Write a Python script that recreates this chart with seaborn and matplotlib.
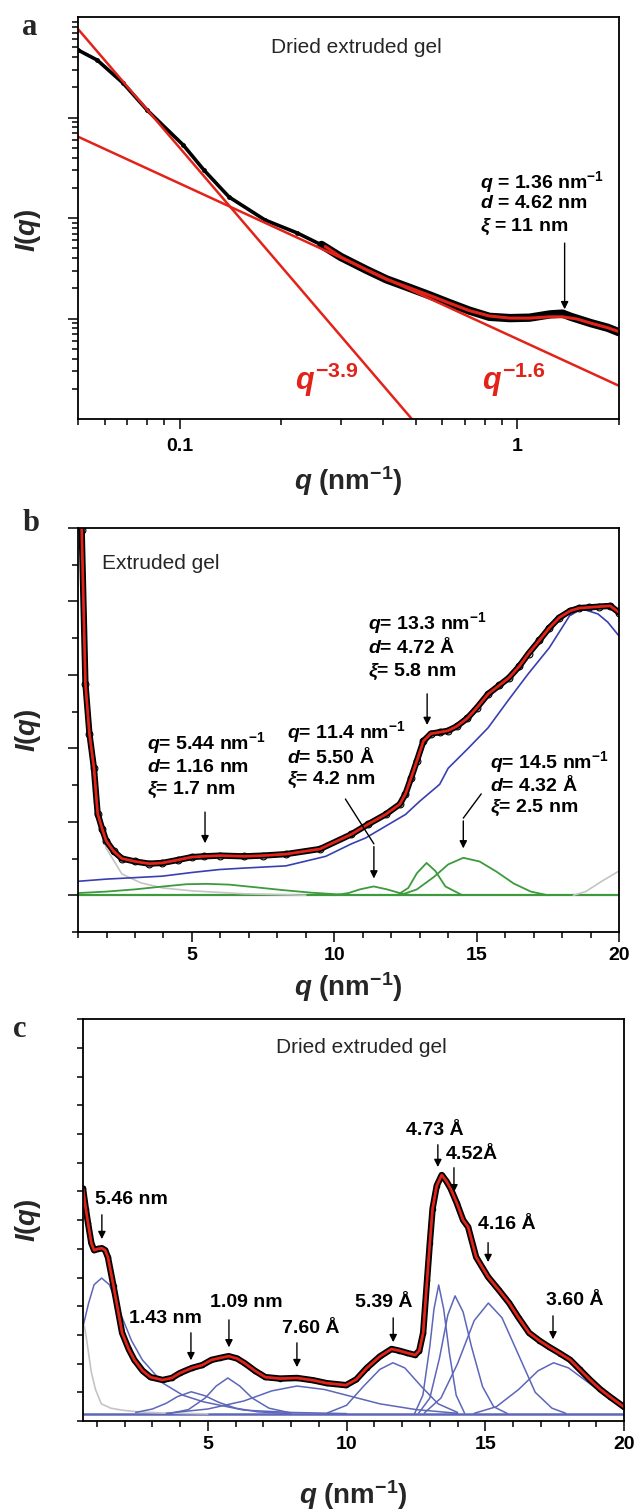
import matplotlib
matplotlib.use("Agg")
import numpy as np
import matplotlib.pyplot as plt
import seaborn as sns
from matplotlib.ticker import MultipleLocator, LogLocator, NullFormatter

# ---------------- panel a : dried extruded gel, log-log ----------------
a_q = [0.050, 0.057, 0.068, 0.080, 0.1025, 0.118, 0.140, 0.179, 0.223, 0.263,
       0.30, 0.358, 0.41, 0.472, 0.55, 0.627, 0.72, 0.826, 0.95, 1.087,
       1.25, 1.36, 1.44, 1.65, 1.85, 2.0]
a_I = [4700, 3730, 2200, 1190, 532, 300, 162, 95.5, 71, 54,
       41, 30.4, 24.5, 20.6, 17, 14.3, 12, 10.4, 10.1, 10.2,
       11.0, 11.2, 10.4, 9.0, 8.1, 7.3]
a_fit_q = [0.27, 0.30, 0.358, 0.41, 0.472, 0.55, 0.627, 0.72, 0.826, 0.95,
           1.087, 1.25, 1.36, 1.5, 1.65, 1.85, 2.0]
a_fit_I = [52, 41, 30.4, 24.5, 20.6, 17, 14.3, 12, 10.6, 10.1,
           10.1, 10.4, 10.4, 9.9, 9.0, 8.1, 7.4]
a_steep_q = [0.05, 0.487]
a_steep_I = [7600, 1.0]
a_shallow_q = [0.05, 2.0]
a_shallow_I = [645, 2.14]

# ---------------- panel b : extruded gel ----------------
b_q = [1.05, 1.13, 1.26, 1.4, 1.56, 1.69, 1.85, 1.99, 2.25, 2.54, 3.0, 3.5, 3.96,
       4.5, 5.0, 5.41, 6.0, 6.83, 7.5, 8.3, 9.5, 10.6, 11.2, 11.8, 12.3, 12.5,
       12.7, 12.9, 13.13, 13.39, 13.7, 13.99, 14.3, 14.67, 15.0, 15.4, 15.8,
       16.13, 16.5, 16.82, 17.2, 17.55, 17.9, 18.27, 18.6, 18.96, 19.3, 19.69, 20.0]
b_I = [5.6, 4.97, 2.88, 2.2, 1.73, 1.11, 0.9, 0.74, 0.6, 0.5, 0.46, 0.43, 0.44,
       0.48, 0.52, 0.53, 0.54, 0.53, 0.54, 0.56, 0.63, 0.83, 0.97, 1.10, 1.24, 1.38,
       1.60, 1.83, 2.10, 2.20, 2.22, 2.24, 2.30, 2.41, 2.55, 2.74, 2.86,
       2.96, 3.12, 3.29, 3.47, 3.64, 3.78, 3.87, 3.91, 3.92, 3.93, 3.94, 3.85]
b_bg_q = [1.0, 2.0, 3.0, 3.96, 5.0, 5.96, 6.83, 8.3, 9.7, 10.6, 11.1, 11.8, 12.5,
          13.0, 13.7, 14.0, 14.7, 15.4, 16.1, 16.8, 17.55, 18.27, 18.7, 19.26,
          19.6, 20.0]
b_bg_I = [0.19, 0.22, 0.24, 0.26, 0.31, 0.35, 0.37, 0.40, 0.53, 0.70, 0.78, 0.94,
          1.10, 1.28, 1.51, 1.73, 2.0, 2.28, 2.65, 3.01, 3.37, 3.81, 3.90, 3.83,
          3.72, 3.53]
b_gray_left_q = [1.02, 1.13, 1.3, 1.56, 1.99, 2.54, 3.2, 3.96, 5.0, 6.83, 9.0]
b_gray_left_I = [5.5, 4.6, 2.6, 1.28, 0.64, 0.29, 0.17, 0.10, 0.06, 0.02, 0.0]
b_gray_right_q = [18.4, 18.83, 19.39, 20.0]
b_gray_right_I = [0.0, 0.05, 0.19, 0.33]
b_peaks = [
    ([1.0, 2.0, 3.0, 4.0, 4.8, 5.53, 6.3, 7.2, 8.2, 9.2, 10.2],
     [0.03, 0.05, 0.08, 0.12, 0.15, 0.155, 0.145, 0.11, 0.07, 0.035, 0.01]),
    ([10.0, 10.5, 10.9, 11.38, 11.85, 12.3, 12.7],
     [0.0, 0.03, 0.08, 0.12, 0.08, 0.03, 0.0]),
    ([12.2, 12.6, 12.9, 13.24, 13.55, 13.9, 14.5],
     [0.0, 0.1, 0.3, 0.44, 0.33, 0.12, 0.0]),
    ([12.3, 12.9, 13.5, 14.0, 14.53, 15.1, 15.7, 16.3, 16.9, 17.5],
     [0.0, 0.08, 0.25, 0.42, 0.51, 0.46, 0.32, 0.16, 0.05, 0.0]),
]
b_base = 0.0

# ---------------- panel c : dried extruded gel, linear ----------------
c_q = [0.5, 0.6, 0.68, 0.8, 0.9, 1.05, 1.18, 1.3, 1.4, 1.6, 1.91, 2.15, 2.35, 2.65,
       2.93, 3.37, 3.7, 3.99, 4.43, 4.8, 5.13, 5.45, 5.75, 6.05, 6.32, 6.7, 7.07,
       7.6, 8.22, 8.8, 9.28, 9.98, 10.35, 10.73, 11.2, 11.62, 11.9, 12.19, 12.47,
       12.62, 12.76, 12.9, 13.0, 13.1, 13.25, 13.43, 13.6, 13.75, 13.97, 14.2,
       14.38, 14.67, 15.1, 15.5, 15.86, 16.2, 16.58, 16.95, 17.3, 17.7, 18.06,
       18.4, 18.78, 19.15, 19.5, 20.0]
c_I = [8.1, 7.4, 6.9, 6.2, 5.95, 6.0, 6.02, 5.95, 5.7, 4.7, 3.07, 2.5, 2.13, 1.75,
       1.53, 1.43, 1.5, 1.67, 1.85, 1.95, 2.13, 2.2, 2.26, 2.18, 2.02, 1.75, 1.53,
       1.48, 1.50, 1.42, 1.32, 1.25, 1.45, 1.85, 2.25, 2.51, 2.45, 2.37, 2.30,
       2.45, 3.07, 4.9, 6.2, 7.4, 8.2, 8.57, 8.35, 8.1, 7.6, 7.0,
       6.76, 5.71, 5.02, 4.55, 4.11, 3.6, 3.07, 2.8, 2.58, 2.35, 2.13,
       1.8, 1.43, 1.1, 0.84, 0.49]
c_gray_q = [0.55, 0.62, 0.68, 0.8, 0.95, 1.16, 1.5, 1.9, 2.5, 3.4, 5.0]
c_gray_I = [3.3, 2.9, 2.5, 1.7, 1.1, 0.6, 0.45, 0.38, 0.32, 0.28, 0.25]
c_peaks = [
    ([0.5, 0.7, 0.9, 1.17, 1.45, 1.9, 2.25, 2.64, 3.38, 4.1, 4.84, 6.3, 8.0, 10.0],
     [3.29, 4.1, 4.75, 4.98, 4.75, 3.63, 2.8, 2.13, 1.32, 0.9, 0.67, 0.38, 0.3, 0.26]),
    ([2.4, 3.0, 3.5, 3.9, 4.4, 4.9, 5.4, 6.0, 6.8, 8.0],
     [0.3, 0.42, 0.62, 0.85, 1.02, 0.88, 0.65, 0.45, 0.32, 0.26]),
    ([3.6, 4.3, 4.9, 5.3, 5.72, 6.15, 6.6, 7.2, 8.0],
     [0.26, 0.4, 0.8, 1.22, 1.5, 1.22, 0.8, 0.45, 0.28]),
    ([3.5, 5.0, 6.3, 7.3, 8.21, 9.2, 10.2, 11.2, 12.5, 14.0],
     [0.27, 0.42, 0.7, 1.05, 1.22, 1.1, 0.85, 0.6, 0.4, 0.27]),
    ([9.3, 10.0, 10.6, 11.2, 11.67, 12.1, 12.7, 13.3, 14.0],
     [0.28, 0.55, 1.2, 1.8, 2.03, 1.85, 1.2, 0.6, 0.3]),
    ([12.45, 12.75, 13.0, 13.15, 13.32, 13.5, 13.7, 13.95, 14.25],
     [0.26, 0.9, 2.6, 3.9, 4.74, 3.9, 2.4, 0.9, 0.28]),
    ([12.6, 13.0, 13.35, 13.65, 13.91, 14.2, 14.5, 14.9, 15.3, 15.8],
     [0.28, 0.8, 2.2, 3.7, 4.36, 3.8, 2.6, 1.2, 0.5, 0.26]),
    ([12.8, 13.4, 14.0, 14.6, 15.11, 15.6, 16.2, 16.8, 17.4, 17.9],
     [0.28, 0.8, 2.0, 3.5, 4.11, 3.6, 2.3, 1.0, 0.45, 0.27]),
    ([14.6, 15.4, 16.2, 16.9, 17.46, 18.0, 18.7, 19.4, 20.0],
     [0.27, 0.5, 1.1, 1.75, 2.03, 1.85, 1.35, 0.85, 0.55]),
]
c_base = 0.24

RED = "#e2231a"
GREEN = "#3d9a3d"
BLUE_B = "#3a3fb0"
BLUE_C = "#5d66b8"
GRAY = "#c4c4c4"

sns.set_theme(style="ticks")
plt.rcParams["font.family"] = ["Liberation Sans", "DejaVu Sans"]
plt.rcParams["mathtext.fontset"] = "custom"
plt.rcParams["mathtext.rm"] = "Liberation Sans:bold"
plt.rcParams["mathtext.bf"] = "Liberation Sans:bold"
plt.rcParams["mathtext.it"] = "Liberation Sans:italic:bold"

fig = plt.figure(figsize=(6.38, 15.10), dpi=100)
ax_a = fig.add_axes([0.1223, 0.7225, 0.8480, 0.2662])
ax_b = fig.add_axes([0.1223, 0.3828, 0.8480, 0.2675])
ax_c = fig.add_axes([0.1301, 0.0589, 0.8480, 0.2662])

ANN = dict(fontsize=14, fontweight="bold", color="black")
ARROW = dict(arrowstyle="-|>", color="black", lw=1.0, mutation_scale=11)


def style(ax):
    for s in ax.spines.values():
        s.set_linewidth(1.3)
        s.set_color("black")
    ax.tick_params(which="both", direction="out", top=False, right=False,
                   colors="black", width=1.1)
    ax.tick_params(which="major", length=7, labelsize=14, pad=4)
    ax.tick_params(which="minor", length=4)


def arrow(ax, start, tip):
    ax.annotate("", xy=tip, xytext=start, arrowprops=ARROW)


def labels(ax, xlab_y, ylab_x, ylab_y):
    ax.set_xlabel(r"$q$ (nm$^{-1}$)", fontsize=20, fontweight="bold")
    ax.xaxis.set_label_coords(0.5, xlab_y)
    ax.xaxis.label.set_va("center")
    ax.set_ylabel(r"$I$($q$)", fontsize=20, fontweight="bold")
    ax.yaxis.set_label_coords(ylab_x, ylab_y)
    ax.yaxis.label.set_va("center")


# ---------------- draw panel a ----------------
ax = ax_a
ax.set_xscale("log")
ax.set_yscale("log")
band_q = [q for q in a_q if q >= 0.26]
band_I = [v for q, v in zip(a_q, a_I) if q >= 0.26]
sns.lineplot(x=a_q, y=a_I, ax=ax, color="black", lw=2.6, sort=False, estimator=None)
sns.lineplot(x=band_q, y=band_I, ax=ax, color="black", lw=6.0, sort=False, estimator=None)
sns.scatterplot(x=a_q, y=a_I, ax=ax, color="black", s=12, linewidth=0)
sns.lineplot(x=a_steep_q, y=a_steep_I, ax=ax, color=RED, lw=1.8, sort=False, estimator=None)
sns.lineplot(x=a_shallow_q, y=a_shallow_I, ax=ax, color=RED, lw=1.8, sort=False, estimator=None)
sns.lineplot(x=a_fit_q, y=a_fit_I, ax=ax, color=RED, lw=2.2, sort=False, estimator=None)
ax.set_xlim(0.05, 2.0)
ax.set_ylim(1, 1e4)
ax.set_xticks([0.1, 1], labels=["0.1", "1"], fontweight="bold")
ax.xaxis.set_minor_locator(LogLocator(base=10, subs=np.arange(2, 10)))
ax.xaxis.set_minor_formatter(NullFormatter())
ax.set_yticks([10, 100, 1000], labels=["", "", ""])
ax.yaxis.set_minor_locator(LogLocator(base=10, subs=np.arange(2, 10)))
ax.yaxis.set_minor_formatter(NullFormatter())
style(ax)
ax.tick_params(axis="x", which="major", pad=7)
labels(ax, -0.154, -0.092, 0.47)
ax.text(0.514, 0.925, "Dried extruded gel", transform=ax.transAxes,
        ha="center", va="center", fontsize=15)
for yy, t in zip([0.590, 0.537, 0.477],
                 [r"$q$ = 1.36 nm$^{-1}$", r"$d$ = 4.62 nm", r"$\xi$ = 11 nm"]):
    ax.text(0.743, yy, t, transform=ax.transAxes, ha="left", va="center", **ANN)
arrow(ax, (1.38, 60), (1.38, 11.6))
ax.text(0.401, 0.072, r"$q^{-3.9}$", transform=ax.transAxes, color=RED,
        fontsize=22, ha="left", va="baseline")
ax.text(0.747, 0.072, r"$q^{-1.6}$", transform=ax.transAxes, color=RED,
        fontsize=22, ha="left", va="baseline")

# ---------------- draw panel b ----------------
ax = ax_b
ax.axhline(b_base, color=GREEN, lw=1.6)
sns.lineplot(x=b_gray_left_q, y=b_gray_left_I, ax=ax, color=GRAY, lw=1.2, sort=False, estimator=None)
sns.lineplot(x=b_gray_right_q, y=b_gray_right_I, ax=ax, color=GRAY, lw=1.2, sort=False, estimator=None)
for pq, pI in b_peaks:
    sns.lineplot(x=pq, y=pI, ax=ax, color=GREEN, lw=1.3, sort=False, estimator=None)
sns.lineplot(x=b_bg_q, y=b_bg_I, ax=ax, color=BLUE_B, lw=1.2, sort=False, estimator=None)
sns.lineplot(x=b_q, y=b_I, ax=ax, color="black", lw=4.5, sort=False, estimator=None)
sns.scatterplot(x=b_q, y=b_I, ax=ax, s=24, marker="o", facecolor="white",
                edgecolor="black", linewidth=0.8)
sns.lineplot(x=b_q, y=b_I, ax=ax, color=RED, lw=2.0, sort=False, estimator=None)
ax.set_xlim(1, 20)
ax.set_ylim(-0.5, 5.0)
ax.set_xticks([5, 10, 15, 20], labels=["5", "10", "15", "20"], fontweight="bold")
ax.xaxis.set_minor_locator(MultipleLocator(1))
ax.yaxis.set_major_locator(MultipleLocator(1))
ax.yaxis.set_minor_locator(MultipleLocator(0.5))
ax.tick_params(labelleft=False)
style(ax)
labels(ax, -0.136, -0.092, 0.5)
ax.text(0.044, 0.913, "Extruded gel", transform=ax.transAxes,
        ha="left", va="center", fontsize=15)
groups_b = [
    (0.536, [0.765, 0.705, 0.644], ["13.3", "4.72 Å", "5.8"]),
    (0.127, [0.468, 0.408, 0.351], ["5.44", "1.16 nm", "1.7"]),
    (0.386, [0.495, 0.433, 0.376], ["11.4", "5.50 Å", "4.2"]),
    (0.762, [0.421, 0.364, 0.307], ["14.5", "4.32 Å", "2.5"]),
]
for gx, gys, (qv, dv, xv) in groups_b:
    texts = [r"$q$= " + qv + r" nm$^{-1}$", r"$d$= " + dv, r"$\xi$= " + xv + " nm"]
    for yy, t in zip(gys, texts):
        ax.text(gx, yy, t, transform=ax.transAxes, ha="left", va="center", **ANN)
arrow(ax, (13.26, 2.78), (13.26, 2.28))
arrow(ax, (5.46, 1.17), (5.46, 0.67))
ax.plot([10.39, 11.39], [1.31, 0.70], color="black", lw=1.0)
arrow(ax, (11.39, 0.70), (11.39, 0.19))
ax.plot([15.16, 14.53], [1.38, 1.05], color="black", lw=1.0)
arrow(ax, (14.53, 1.05), (14.53, 0.60))

# ---------------- draw panel c ----------------
ax = ax_c
ax.axhline(c_base, color=BLUE_C, lw=1.8)
sns.lineplot(x=c_gray_q, y=c_gray_I, ax=ax, color=GRAY, lw=1.2, sort=False, estimator=None)
for pq, pI in c_peaks:
    sns.lineplot(x=pq, y=pI, ax=ax, color=BLUE_C, lw=1.1, sort=False, estimator=None)
sns.lineplot(x=c_q, y=c_I, ax=ax, color="black", lw=4.6, sort=False, estimator=None)
sns.scatterplot(x=c_q, y=c_I, ax=ax, color="black", s=16, linewidth=0)
sns.lineplot(x=c_q, y=c_I, ax=ax, color=RED, lw=2.0, sort=False, estimator=None)
ax.set_xlim(0.5, 20)
ax.set_ylim(0, 14)
ax.set_xticks([5, 10, 15, 20], labels=["5", "10", "15", "20"], fontweight="bold")
ax.xaxis.set_minor_locator(MultipleLocator(1))
ax.yaxis.set_major_locator(MultipleLocator(1))
ax.tick_params(labelleft=False)
style(ax)
ax.tick_params(axis="y", which="major", length=4)
labels(ax, -0.184, -0.102, 0.5)
ax.text(0.514, 0.930, "Dried extruded gel", transform=ax.transAxes,
        ha="center", va="center", fontsize=15)
peak_labels_c = [
    ("5.46 nm", 0.0887, 0.550, (1.18, 7.28), (1.18, 6.24)),
    ("4.73 Å", 0.651, 0.724, (13.29, 9.72), (13.29, 8.75)),
    ("4.52Å", 0.719, 0.664, (13.87, 8.92), (13.87, 7.87)),
    ("4.16 Å", 0.784, 0.488, (15.1, 6.31), (15.1, 5.44)),
    ("3.60 Å", 0.909, 0.301, (17.44, 3.76), (17.44, 2.75)),
    ("5.39 Å", 0.556, 0.296, (11.68, 3.69), (11.68, 2.65)),
    ("7.60 Å", 0.421, 0.231, (8.21, 2.82), (8.21, 1.78)),
    ("1.09 nm", 0.301, 0.294, (5.76, 3.62), (5.76, 2.47)),
    ("1.43 nm", 0.152, 0.256, (4.39, 3.17), (4.39, 2.02)),
]
for t, tx, ty, st, tp in peak_labels_c:
    ax.text(tx, ty, t, transform=ax.transAxes, ha="center", va="center", **ANN)
    arrow(ax, st, tp)

# panel letters
for letter, (fx, fy) in zip("abc", [(0.047, 0.9815), (0.0486, 0.6536), (0.031, 0.318)]):
    fig.text(fx, fy, letter, fontsize=22, fontweight="bold",
             family=["Liberation Serif", "DejaVu Serif"], ha="center", va="center")

fig.savefig("out.png", dpi=100)
